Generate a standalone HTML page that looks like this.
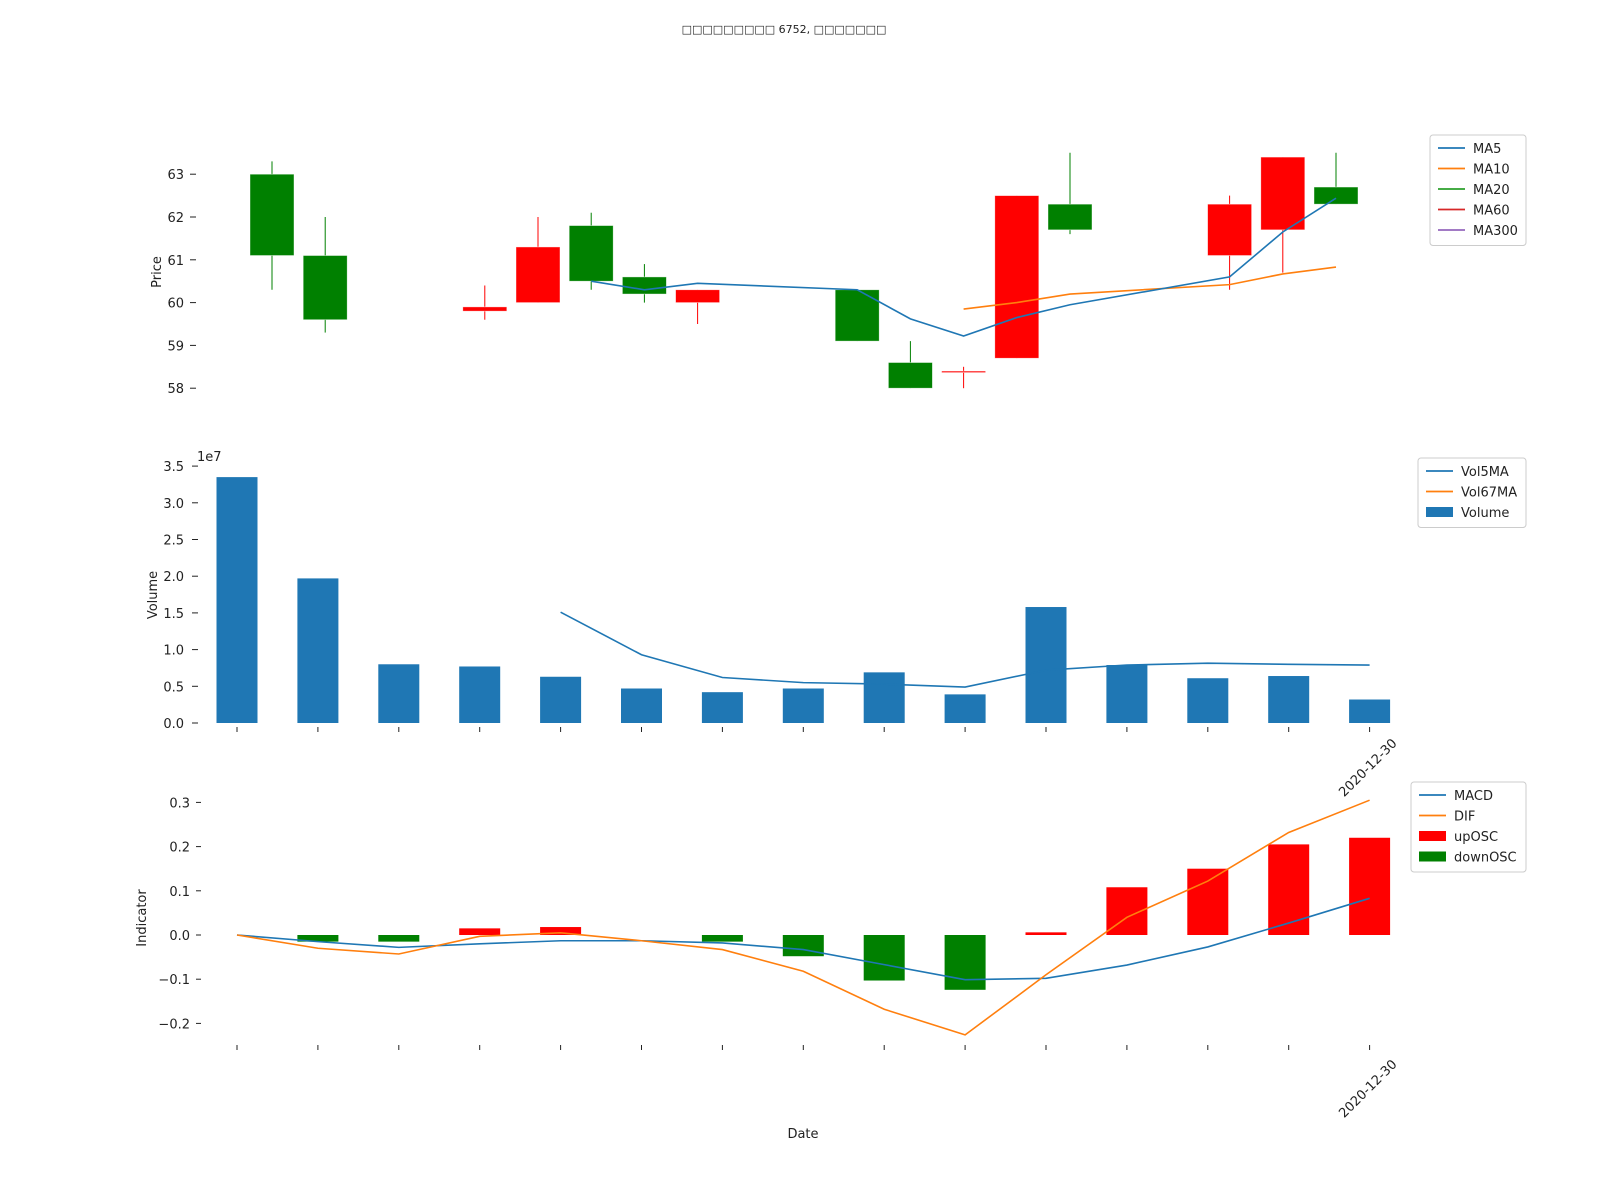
<!DOCTYPE html>
<html><head><meta charset="utf-8"><style>
html,body{margin:0;padding:0;background:#fff;width:1600px;height:1200px;overflow:hidden}
svg{font-family:"DejaVu Sans","Liberation Sans",sans-serif}
</style></head><body>
<svg id="c" width="1600" height="1200" xmlns="http://www.w3.org/2000/svg">
<text x="784" y="33" font-size="11" text-anchor="middle" fill="#222">□□□□□□□□□ 6752, □□□□□□□</text>
</svg>
<script>
// ---- price data (slot index = calendar day offset) ----
const candleSlots = [0,1,4,5,6,7,8,11,12,13,14,15,18,19,20];
const opens  = [63.0,61.1,59.8,60.0,61.8,60.6,60.0,60.3,58.6,58.4,58.7,62.3,61.1,61.7,62.7];
const closes = [61.1,59.6,59.9,61.3,60.5,60.2,60.3,59.1,58.0,58.4,62.5,61.7,62.3,63.4,62.3];
const highs  = [63.3,62.0,60.4,62.0,62.1,60.9,60.3,60.3,59.1,58.5,62.5,63.5,62.5,63.4,63.5];
const lows   = [60.3,59.3,59.6,60.0,60.3,60.0,59.5,59.1,58.0,58.0,58.7,61.6,60.3,60.7,62.3];
const upFlags = [0,0,1,1,0,0,1,0,0,1,1,0,1,1,0];
const ma5Slots = [6,7,8,11,12,13,14,15,18,19,20];
const ma5 = [60.5,60.3,60.45,60.3,59.62,59.22,59.65,59.95,60.6,61.65,62.44];
const ma10Slots = [13,14,15,18,19,20];
const ma10 = [59.85,60.0,60.2,60.42,60.67,60.83];
const priceTicks = [58,59,60,61,62,63];
// ---- volume data (1e7) ----
const volume = [3.35,1.97,0.80,0.77,0.63,0.47,0.42,0.47,0.69,0.39,1.58,0.79,0.61,0.64,0.32];
const vol5ma = [null,null,null,null,1.51,0.93,0.62,0.55,0.53,0.49,0.72,0.79,0.815,0.80,0.79];
const volTicks = ["0.0","0.5","1.0","1.5","2.0","2.5","3.0","3.5"];
// ---- indicator data ----
const osc  = [0,-0.015,-0.015,0.015,0.018,0,-0.015,-0.048,-0.103,-0.124,0.006,0.108,0.15,0.205,0.22];
const macd = [0,-0.015,-0.028,-0.02,-0.013,-0.013,-0.018,-0.033,-0.067,-0.101,-0.098,-0.068,-0.027,0.027,0.083];
const dif  = [0,-0.03,-0.043,-0.003,0.005,-0.013,-0.033,-0.082,-0.168,-0.226,-0.09,0.04,0.122,0.232,0.305];
const indTicks = [-0.2,-0.1,0,0.1,0.2,0.3];
const lastDate = "2020-12-30";

const svg = document.getElementById('c');
const NS = 'http://www.w3.org/2000/svg';
function el(tag, attrs, parent){const e=document.createElementNS(NS,tag);for(const k in attrs)e.setAttribute(k,attrs[k]);(parent||svg).appendChild(e);return e;}
function txt(s, attrs){const t=el('text',attrs);t.textContent=s;return t;}

const px = s => 272 + s*53.2;
const py = v => 302.6 - (v-60)*42.8;
const vx = i => 237 + i*80.9;
const vy = v => 723 - v*73.4;
const ix = i => 237 + i*80.9;
const iy = v => 935 - v*442;

// ---- price panel ----
priceTicks.forEach(t=>{
  const y=py(t);
  let l=el('line',{x1:190,x2:196,y1:y,y2:y,stroke:'#222'});
  
  let tx=txt(String(t),{x:184,y:y+5,'font-size':13,'text-anchor':'end',fill:'#222'});
  
});
let pl=txt('Price',{x:0,y:0,'font-size':13,'text-anchor':'middle',fill:'#222',transform:'translate(161,272) rotate(-90)'});

candleSlots.forEach((s,i)=>{
  const col = upFlags[i] ? '#ff0000' : '#008000';
  const x = px(s);
  const w = el('line',{x1:x,x2:x,y1:py(highs[i]),y2:py(lows[i]),stroke:col,'stroke-width':1});
  
  const top = py(Math.max(opens[i],closes[i])), bot = py(Math.min(opens[i],closes[i]));
  const r = el('rect',{x:x-22,y:top,width:44,height:Math.max(bot-top,1.5),fill:col,stroke:'#fff','stroke-opacity':0.6,'stroke-width':0.7});
  
});
function poly(xs, ys, color, name){
  const p=el('polyline',{points:xs.map((x,i)=>x+','+ys[i]).join(' '),fill:'none',stroke:color,'stroke-width':1.6});
  
}
poly(ma10Slots.map(px), ma10.map(py), '#ff7f0e', 'ma10-line');
poly(ma5Slots.map(px), ma5.map(py), '#1f77b4', 'ma5-line');

function legend(x,y,w,items,name){
  const g=el('g',{});
  
  const h=items.length*20.5+8;
  el('rect',{x:x,y:y,width:w,height:h,rx:3,fill:'#fff',stroke:'#ccc'},g);
  items.forEach((it,i)=>{
    const cy=y+13+i*20.5;
    if(it[2]==='bar') el('rect',{x:x+8,y:cy-5,width:27,height:10,fill:it[1]},g);
    else el('line',{x1:x+8,x2:x+35,y1:cy,y2:cy,stroke:it[1],'stroke-width':1.8},g);
    const t=el('text',{x:x+43,y:cy+5,'font-size':13,fill:'#222'},g);t.textContent=it[0];
  });
}
legend(1430,135,96,[['MA5','#1f77b4'],['MA10','#ff7f0e'],['MA20','#2ca02c'],['MA60','#d62728'],['MA300','#9467bd']],'price-legend');

// ---- volume panel ----
volTicks.forEach((t,i)=>{
  const y=vy(parseFloat(t));
  let l=el('line',{x1:192,x2:198,y1:y,y2:y,stroke:'#222'});
  
  let tx=txt(t,{x:184,y:y+5,'font-size':13,'text-anchor':'end',fill:'#222'});
  
});
let ve=txt('1e7',{x:197,y:461,'font-size':13,fill:'#222'});

let vl=txt('Volume',{x:0,y:0,'font-size':13,'text-anchor':'middle',fill:'#222',transform:'translate(157,595) rotate(-90)'});

volume.forEach((v,i)=>{
  const b=el('rect',{x:vx(i)-20.5,y:vy(v),width:41,height:723-vy(v),fill:'#1f77b4'});
  
  const t=el('line',{x1:vx(i),x2:vx(i),y1:727,y2:732,stroke:'#222'});
  
});
{
  const idx=vol5ma.map((v,i)=>i).filter(i=>vol5ma[i]!==null);
  poly(idx.map(vx), idx.map(i=>vy(vol5ma[i])), '#1f77b4', 'vol5ma-line');
}
let d1=txt(lastDate,{x:0,y:0,'font-size':13,'text-anchor':'end',fill:'#222',transform:`translate(${vx(14)+28},744) rotate(-45)`});

legend(1418,458,108,[['Vol5MA','#1f77b4'],['Vol67MA','#ff7f0e'],['Volume','#1f77b4','bar']],'volume-legend');

// ---- indicator panel ----
indTicks.forEach(t=>{
  const y=iy(t);
  let l=el('line',{x1:196,x2:201,y1:y,y2:y,stroke:'#222'});
  
  const s = t<0 ? '\u2212'+Math.abs(t).toFixed(1) : t.toFixed(1);
  let tx=txt(s,{x:190,y:y+5,'font-size':13,'text-anchor':'end',fill:'#222'});
  
});
let il=txt('Indicator',{x:0,y:0,'font-size':13,'text-anchor':'middle',fill:'#222',transform:'translate(146,918) rotate(-90)'});

osc.forEach((v,i)=>{
  if(v!==0){
    const y0=iy(Math.max(v,0)), y1=iy(Math.min(v,0));
    const b=el('rect',{x:ix(i)-20.5,y:y0,width:41,height:y1-y0,fill:v>0?'#ff0000':'#008000'});
    
  }
  const t=el('line',{x1:ix(i),x2:ix(i),y1:1045,y2:1050,stroke:'#222'});
  
});
poly(osc.map((v,i)=>ix(i)), macd.map(iy), '#1f77b4', 'macd-line');
poly(osc.map((v,i)=>ix(i)), dif.map(iy), '#ff7f0e', 'dif-line');
let d2=txt(lastDate,{x:0,y:0,'font-size':13,'text-anchor':'end',fill:'#222',transform:`translate(${ix(14)+28},1065) rotate(-45)`});

let dl=txt('Date',{x:803,y:1138,'font-size':13,'text-anchor':'middle',fill:'#222'});

legend(1411,782,115,[['MACD','#1f77b4'],['DIF','#ff7f0e'],['upOSC','#ff0000','bar'],['downOSC','#008000','bar']],'indicator-legend');
</script>
</body></html>
